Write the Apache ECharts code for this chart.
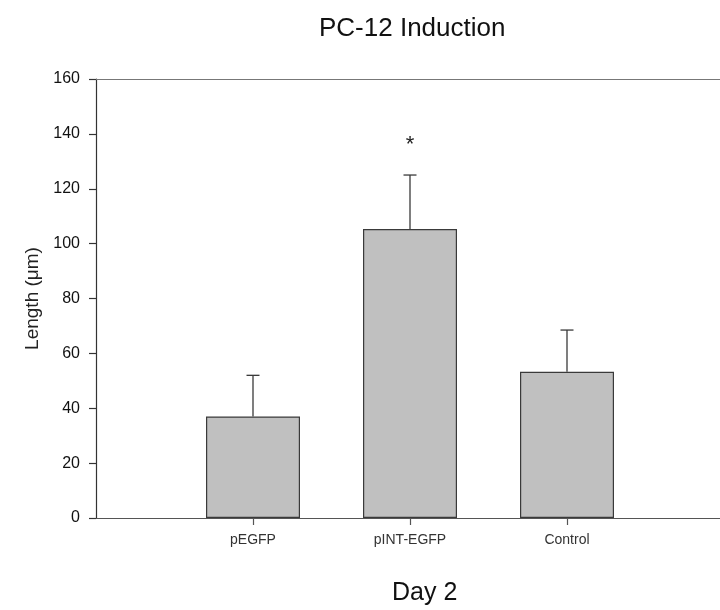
<!DOCTYPE html>
<html>
<head>
<meta charset="utf-8">
<script src="https://cdn.jsdelivr.net/npm/echarts@6/dist/echarts.min.js"></script>
<style>
  html, body { margin: 0; padding: 0; background: #ffffff; }
  #chart { width: 720px; height: 610px; }
</style>
</head>
<body>
<div id="chart"></div>
<script>
// Neurite length of PC-12 cells on day 2 (mean + SD)
const categories = ['', 'pEGFP', 'pINT-EGFP', 'Control', ''];
const means      = [null, 37, 105.3, 53.3, null];
const errorTops  = [null, 52, 125, 68.5, null];
const markers    = ['', '', '*', '', ''];
const yTicks     = [0, 20, 40, 60, 80, 100, 120, 140, 160];

const FONT = '"Liberation Sans", Arial, sans-serif';
const chart = echarts.init(document.getElementById('chart'), null, { renderer: 'canvas' });

const errorData = categories.map((c, i) => [i, means[i], errorTops[i], markers[i]])
  .filter(d => d[1] != null);

chart.setOption({
  animation: false,
  backgroundColor: '#ffffff',
  title: [
    { text: 'PC-12 Induction', left: 314, top: 11,
      textStyle: { fontFamily: FONT, fontSize: 26, fontWeight: 'normal', color: '#111' } },
    { text: 'Day 2', left: 387, top: 576,
      textStyle: { fontFamily: FONT, fontSize: 25, fontWeight: 'normal', color: '#111' } }
  ],
  grid: { left: 96, top: 79, width: 628, height: 439, containLabel: false, outerBoundsMode: 'none' },
  xAxis: [
    {
      type: 'category', data: categories, boundaryGap: false, position: 'bottom',
      axisLine: { lineStyle: { color: '#555', width: 1.2 } },
      axisTick: { show: true, length: 7, interval: (i) => i >= 1 && i <= 3,
                  lineStyle: { color: '#555', width: 1.2 } },
      axisLabel: { interval: 0, margin: 15, fontFamily: FONT, fontSize: 14, color: '#333' }
    },
    {
      type: 'category', data: categories, boundaryGap: false, position: 'top',
      axisLine: { lineStyle: { color: '#777', width: 1.2 } },
      axisTick: { show: false }, axisLabel: { show: false }
    }
  ],
  yAxis: {
    type: 'value', min: yTicks[0], max: yTicks[yTicks.length - 1], interval: 20,
    name: 'Length (μm)', nameLocation: 'middle', nameGap: 52, nameRotate: 90,
    nameTextStyle: { fontFamily: FONT, fontSize: 19, color: '#222' },
    axisLine: { show: true, lineStyle: { color: '#333', width: 1.2 } },
    axisTick: { show: true, inside: false, length: 7, lineStyle: { color: '#333', width: 1.2 } },
    axisLabel: { margin: 16, fontFamily: FONT, fontSize: 16, color: '#111' },
    splitLine: { show: false }
  },
  series: [
    {
      type: 'bar', data: means, barWidth: 94, xAxisIndex: 0,
      itemStyle: { color: '#c0c0c0', borderColor: '#3a3a3a', borderWidth: 1.2 }
    },
    {
      type: 'custom', xAxisIndex: 0, data: errorData, z: 3,
      renderItem: function (params, api) {
        const x = api.value(0);
        const base = api.coord([x, api.value(1)]);
        const top = api.coord([x, api.value(2)]);
        const cap = 6.5;
        const style = { stroke: '#3a3a3a', lineWidth: 1.3 };
        const children = [
          { type: 'line', shape: { x1: base[0], y1: base[1], x2: top[0], y2: top[1] }, style },
          { type: 'line', shape: { x1: top[0] - cap, y1: top[1], x2: top[0] + cap, y2: top[1] }, style }
        ];
        const mark = errorData[params.dataIndex][3];
        if (mark) {
          children.push({
            type: 'text',
            style: { text: mark, x: top[0], y: top[1] - 30, align: 'center', verticalAlign: 'middle',
                     font: '22px ' + FONT, fill: '#222' }
          });
        }
        return { type: 'group', children };
      }
    }
  ]
});
</script>
</body>
</html>
